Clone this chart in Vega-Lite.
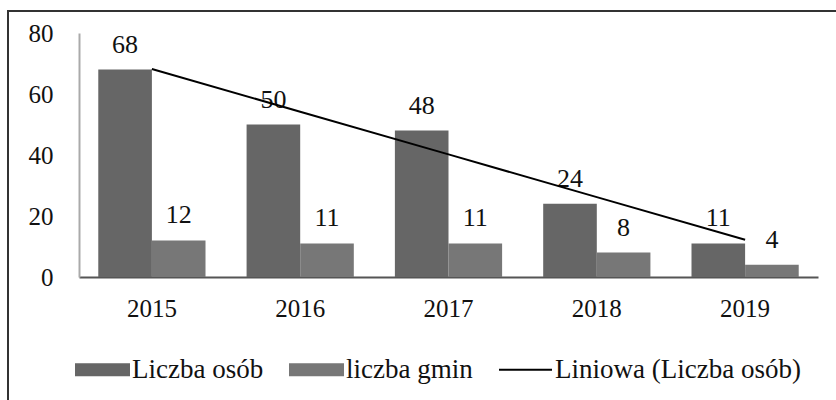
{
  "$schema": "https://vega.github.io/schema/vega-lite/v6.json",
  "autosize": {"type": "none"},
  "padding": {"left": 8, "top": 11, "right": 0, "bottom": 0},
  "width": 830,
  "height": 390,
  "background": "white",
  "config": {
    "view": {"stroke": "#333333", "strokeWidth": 2},
    "font": "Liberation Serif, Times New Roman, serif",
    "text": {"font": "Liberation Serif, Times New Roman, serif"},
    "axis": {"labelFont": "Liberation Serif, Times New Roman, serif", "labelFontSize": 25, "labelColor": "#111111", "ticks": false, "tickSize": 0, "grid": false, "title": null}
  },
  "datasets": {
    "bars": [
      {"rok": "2015", "seria": "Liczba osób", "wartosc": 68},
      {"rok": "2015", "seria": "liczba gmin", "wartosc": 12},
      {"rok": "2016", "seria": "Liczba osób", "wartosc": 50},
      {"rok": "2016", "seria": "liczba gmin", "wartosc": 11},
      {"rok": "2017", "seria": "Liczba osób", "wartosc": 48},
      {"rok": "2017", "seria": "liczba gmin", "wartosc": 11},
      {"rok": "2018", "seria": "Liczba osób", "wartosc": 24},
      {"rok": "2018", "seria": "liczba gmin", "wartosc": 8},
      {"rok": "2019", "seria": "Liczba osób", "wartosc": 11},
      {"rok": "2019", "seria": "liczba gmin", "wartosc": 4}
    ],
    "trend": [
      {"rok": "2015", "trend": 68.2},
      {"rok": "2016", "trend": 54.2},
      {"rok": "2017", "trend": 40.2},
      {"rok": "2018", "trend": 26.2},
      {"rok": "2019", "trend": 12.2}
    ]
  },
  "layer": [
    {
      "data": {"name": "bars"},
      "mark": {"type": "bar"},
      "encoding": {
        "x": {"field": "rok", "type": "nominal",
              "scale": {"range": [71, 810], "paddingInner": 0.277, "paddingOuter": 0.13},
              "axis": {"orient": "bottom", "offset": -124, "labelAngle": 0, "labelPadding": 19, "domainColor": "#555555", "domainWidth": 2}},
        "xOffset": {"field": "seria", "type": "nominal", "scale": {"paddingInner": 0, "paddingOuter": 0}, "sort": ["Liczba osób", "liczba gmin"]},
        "y": {"field": "wartosc", "type": "quantitative",
              "scale": {"domain": [0, 80], "range": [266, 22], "nice": false},
              "axis": {"orient": "left", "offset": -71, "values": [0, 20, 40, 60, 80], "labelPadding": 26, "domainColor": "#aaaaaa", "domainWidth": 2}},
        "color": {"field": "seria", "type": "nominal",
                  "scale": {"domain": ["Liczba osób", "liczba gmin", "Liniowa (Liczba osób)"], "range": ["#666666", "#777777", "#000000"]},
                  "legend": {
                    "title": null, "orient": "none", "direction": "horizontal",
                    "legendX": 67, "legendY": 331, "padding": 0,
                    "labelFont": "Liberation Serif, Times New Roman, serif", "labelFontSize": 27, "labelColor": "#111111", "labelLimit": 500,
                    "labelOffset": 2, "columnPadding": 22,
                    "symbolSize": 2809, "symbolStrokeWidth": 2,
                    "symbolType": "M-1,-0.21H1V0.21H-1Z",
                    "encode": {
                      "symbols": {
                        "update": {
                          "shape": [{"test": "datum.value === 'Liniowa (Liczba osób)'", "value": "M-1,0H1"}, {"value": "M-1,-0.21H1V0.21H-1Z"}],
                          "fill": [{"test": "datum.value === 'Liniowa (Liczba osób)'", "value": "transparent"}, {"scale": "color", "field": "value"}],
                          "stroke": [{"test": "datum.value === 'Liniowa (Liczba osób)'", "value": "#000000"}, {"value": "transparent"}],
                          "strokeWidth": {"value": 2},
                          "opacity": {"value": 1}
                        }
                      }
                    }
                  }}
      }
    },
    {
      "data": {"name": "bars"},
      "mark": {"type": "text", "baseline": "bottom", "dy": -12, "fontSize": 26, "font": "Liberation Serif, Times New Roman, serif", "color": "#111111"},
      "encoding": {
        "x": {"field": "rok", "type": "nominal"},
        "xOffset": {"field": "seria", "type": "nominal", "sort": ["Liczba osób", "liczba gmin"]},
        "y": {"field": "wartosc", "type": "quantitative"},
        "text": {"field": "wartosc", "type": "quantitative"}
      }
    },
    {
      "data": {"name": "trend"},
      "mark": {"type": "line", "strokeWidth": 2},
      "encoding": {
        "x": {"field": "rok", "type": "nominal", "bandPosition": 0.5},
        "y": {"field": "trend", "type": "quantitative"},
        "color": {"datum": "Liniowa (Liczba osób)"}
      }
    }
  ]
}
